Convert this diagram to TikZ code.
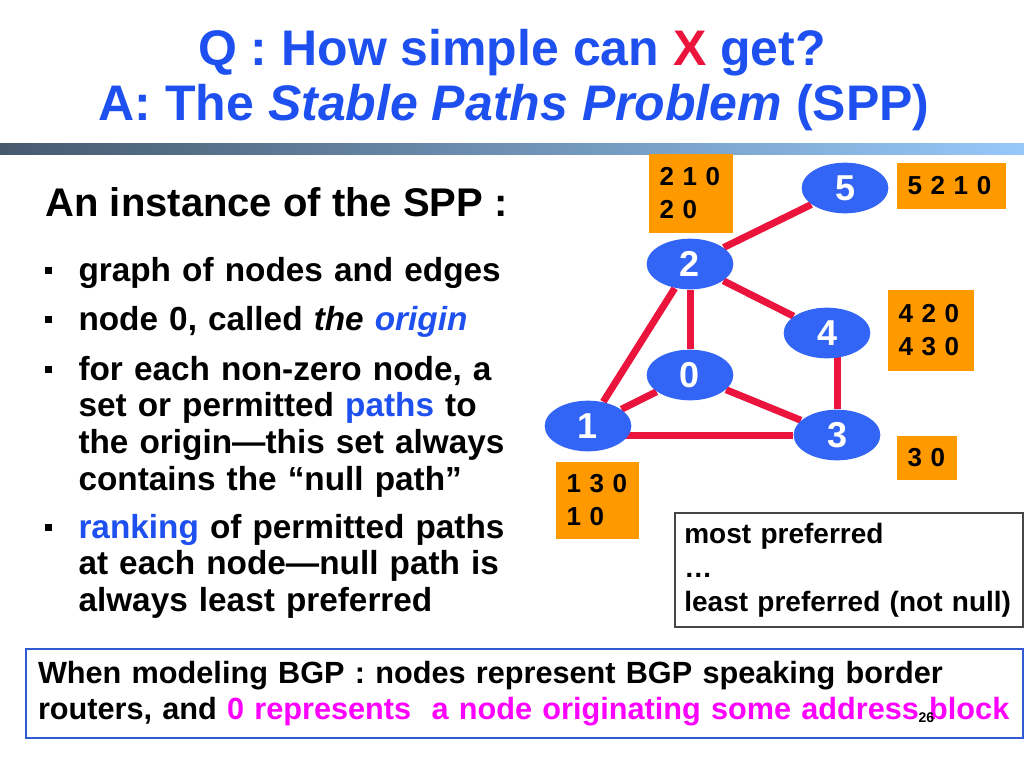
\documentclass[tikz,border=0pt]{standalone}
\usepackage{fontspec}
\setmainfont{Liberation Sans}
\usetikzlibrary{shapes.geometric,backgrounds}

\definecolor{titleblue}{RGB}{30,80,240}
\definecolor{nodeblue}{RGB}{50,100,245}
\definecolor{edgered}{RGB}{235,20,60}
\definecolor{pathorange}{RGB}{255,153,0}
\definecolor{barleft}{RGB}{70,90,110}
\definecolor{barright}{RGB}{150,200,250}
\definecolor{framegray}{RGB}{70,70,70}
\definecolor{frameblue}{RGB}{50,90,210}
\definecolor{notepink}{RGB}{255,0,255}

\tikzset{every picture/.style={line width=0.75pt}}
\tikzset{
	spnode/.style={ellipse, fill=nodeblue, text=white, minimum width=65pt, minimum height=38pt, inner sep=0pt, font=\fontsize{27}{27}\selectfont\bfseries},
	spedge/.style={draw=edgered, line width=5.25pt},
	pathbox/.style={fill=pathorange, anchor=north west, align=left, inner xsep=8.25pt, inner ysep=0pt, font=\fontsize{19.5}{24.75}\selectfont\bfseries},
	bullettext/.style={anchor=base west, inner sep=0pt, align=left, text width=360pt, font=\fontsize{25}{27.5}\selectfont\bfseries}
}

\begin{document}
\begin{tikzpicture}[x=0.75pt,y=0.75pt,yscale=-1]
		\useasboundingbox (0,0) rectangle (1024,768);

		% title and bar
		\node (title1) at (512,65) [anchor=base, inner sep=0pt, text=titleblue, font=\fontsize{37.5}{41}\selectfont\bfseries] {Q : How simple can \textcolor{edgered}{X} get?};
		\node (title2) at (514,120) [anchor=base, inner sep=0pt, text=titleblue, font=\fontsize{37.5}{41}\selectfont\bfseries] {A: The \textit{Stable Paths Problem} (SPP)};
		\shade [left color=barleft, right color=barright] (0,143) rectangle (1024,154);

		% left column
		\node (heading) at (45,216) [anchor=base west, inner sep=0pt, font=\fontsize{30}{33}\selectfont\bfseries] {An instance of the SPP :};
		\foreach \y in {281,330,380,538}
			\fill (45,{\y-14}) rectangle (52,{\y-7});
		\node (item1) at (78,281) [bullettext] {graph of nodes and edges};
		\node (item2) at (78,330) [bullettext] {node 0, called \textit{the} \textcolor{titleblue}{\textit{origin}}};
		\node (item3) at (78,380) [bullettext] {for each non-zero node, a\\set or permitted \textcolor{titleblue}{paths} to\\the origin—this set always\\contains the “null path”};
		\node (item4) at (78,538) [bullettext] {\textcolor{titleblue}{ranking} of permitted paths\\at each node—null path is\\always least preferred};

		% graph
		\node [spnode] (n5) at (845,188) {5};
		\node [spnode] (n2) at (690,264) {2};
		\node [spnode] (n4) at (827,333) {4};
		\node [spnode] (n0) at (690,375) {0};
		\node [spnode] (n1) at (588,426) {1};
		\node [spnode] (n3) at (837,435) {3};
		\begin{scope}[on background layer]
			\draw [spedge] (n2) -- (n5);
			\draw [spedge] (n2) -- (n4);
			\draw [spedge] (n2) -- (n0);
			\draw [spedge] (n2) -- (n1);
			\draw [spedge] (n1) -- (n0);
			\draw [spedge] (n1 |- n3) -- (n3);
			\draw [spedge] (n0) -- (n3);
			\draw [spedge] (n4 -| n3) -- (n3);
		\end{scope}

		% permitted paths
		\node (paths2) at (648,153) [pathbox, text width=46.5pt, minimum height=59.25pt] {2 1 0\\2 0};
		\node (paths5) at (896,162) [pathbox, text width=65.25pt, minimum height=34.5pt] {5 2 1 0};
		\node (paths4) at (887,289) [pathbox, text width=48pt, minimum height=60.75pt] {4 2 0\\4 3 0};
		\node (paths3) at (896,435) [pathbox, text width=28.5pt, minimum height=33pt] {3 0};
		\node (paths1) at (555,461) [pathbox, text width=45.75pt, minimum height=57.75pt] {1 3 0\\1 0};

		% ranking legend
		\node (legend) at (674,512) [draw=framegray, line width=1.5pt, anchor=north west, align=left, inner xsep=7pt, inner ysep=0pt, text width=247pt, minimum height=85.5pt, font=\fontsize{21}{25.5}\selectfont\bfseries] {most preferred\\…\\least preferred (not null)};

		% bottom note
		\node (bgpnote) at (25,648) [draw=frameblue, line width=1.5pt, anchor=north west, align=left, inner xsep=9pt, inner ysep=0pt, text width=730pt, minimum height=66.75pt, font=\fontsize{23}{27}\selectfont\bfseries] {When modeling BGP : nodes represent BGP speaking border\\routers, and \textcolor{notepink}{0 represents \ a node originating some address block}};
		\node (pagenum) at (918,722) [anchor=base west, inner sep=0pt, font=\fontsize{10.5}{10.5}\selectfont\bfseries] {26};
\end{tikzpicture}
\end{document}
